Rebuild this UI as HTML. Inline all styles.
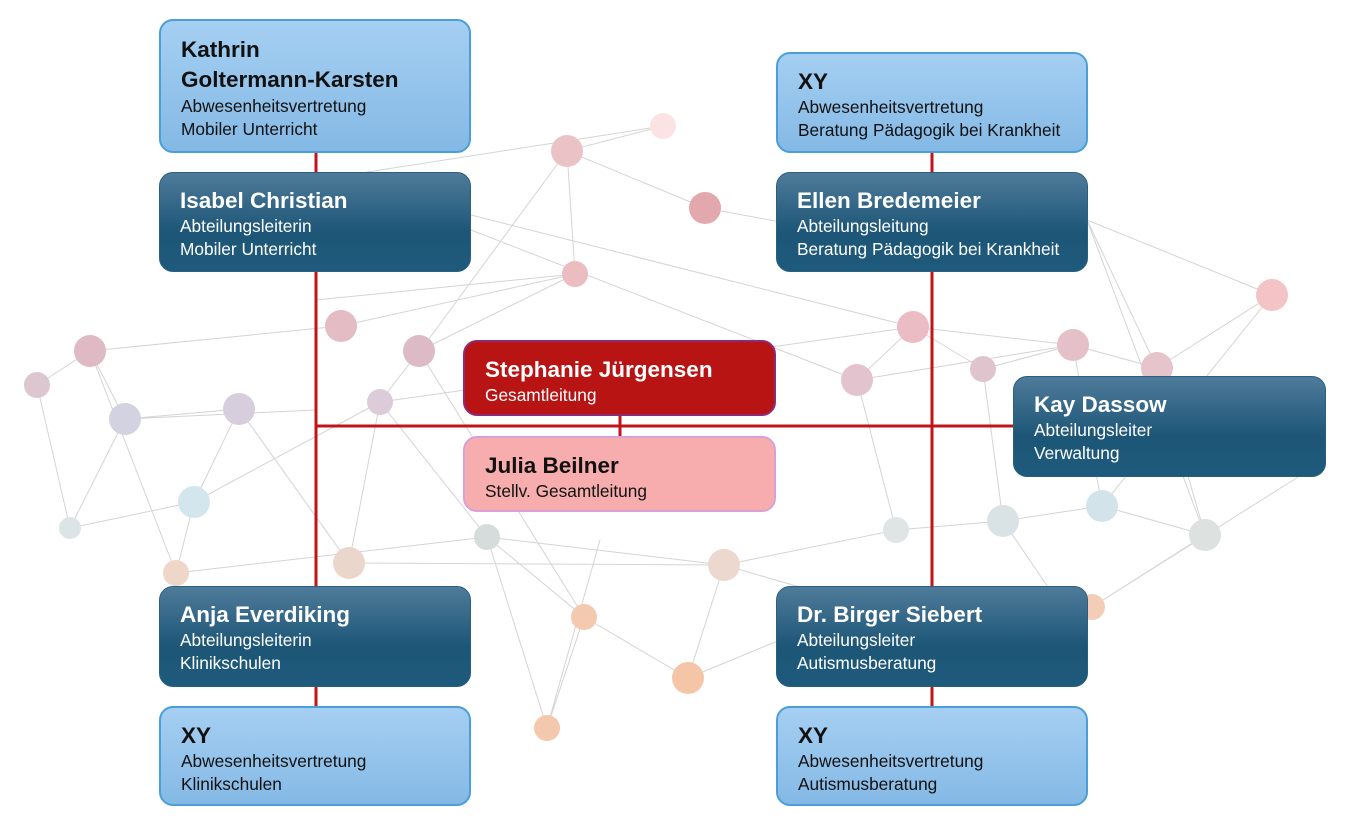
<!DOCTYPE html>
<html><head><meta charset="utf-8"><style>
body{margin:0;width:1345px;height:818px;background:#fff;position:relative;overflow:hidden;font-family:"Liberation Sans",sans-serif}
.b{position:absolute;box-sizing:border-box;border-radius:14px;padding:14px 0 0 20px;font-size:17.3px;line-height:23px;white-space:nowrap}
.b b{display:block;font-size:22.5px;line-height:28px}
.l{background:linear-gradient(#a5cff2,#84b9e5);border:2px solid #4a9fd8;color:#111}
.d{background:linear-gradient(#4f7b9a,#1d5677 60%,#1e5a7c);border:1.5px solid #2a5f80;color:#fff}
</style></head><body>
<svg width="1345" height="818" style="position:absolute;left:0;top:0">
<g stroke="#d4d4d4" stroke-width="1" fill="none">
<path d="M663 126L567 151L705 208L932 250M567 151L575 274L341 326M567 151L420 351M663 126L316 180M575 274L419 351L380 402L349 563M341 326L90 351L37 385L70 528L125 419L239 409L194 502L70 528M90 351L125 419M90 351L176 573M239 409L349 563M194 502L176 573M380 402L194 502M380 402L487 537L584 617L547 728L487 537M419 351L584 617M487 537L724 565L688 678L584 617M724 565L896 530M913 327L857 380L896 530M913 327L983 369L1003 521M1073 345L983 369M1073 345L1157 368L1272 295L1102 506L1003 521M1157 368L1205 535L1092 607M1073 345L1102 506M857 380L1073 345M1272 295L1087 220M1087 220L1157 368M1087 220L1205 535M471 215L913 327M471 230L857 380M176 573L487 537M349 563L724 565M896 530L1003 521M1102 506L1205 535M316 300L575 274M380 402L913 327M724 565L913 620M688 678L780 640M547 728L600 540M1092 607L1325 460M1205 535L1092 607M125 419L316 410M37 385L90 351M1003 521L1050 590M913 327L1073 345"/>
</g>
<g>
<circle cx="663" cy="126" r="13" fill="#fbe3e3"/><circle cx="567" cy="151" r="16" fill="#ebc3c6"/><circle cx="705" cy="208" r="16" fill="#e3a8ad"/><circle cx="575" cy="274" r="13" fill="#ebbcc0"/><circle cx="341" cy="326" r="16" fill="#e3bcc4"/><circle cx="419" cy="351" r="16" fill="#dcbac6"/><circle cx="90" cy="351" r="16" fill="#dfbac4"/><circle cx="37" cy="385" r="13" fill="#dcc6d0"/><circle cx="125" cy="419" r="16" fill="#d2d2e0"/><circle cx="239" cy="409" r="16" fill="#d6cedc"/><circle cx="380" cy="402" r="13" fill="#dccbd8"/><circle cx="194" cy="502" r="16" fill="#d3e6ee"/><circle cx="70" cy="528" r="11" fill="#dde4e6"/><circle cx="176" cy="573" r="13" fill="#eed6c8"/><circle cx="349" cy="563" r="16" fill="#ebd6cc"/><circle cx="487" cy="537" r="13" fill="#d6dcdc"/><circle cx="584" cy="617" r="13" fill="#f3c9b0"/><circle cx="724" cy="565" r="16" fill="#ecd8ce"/><circle cx="688" cy="678" r="16" fill="#f5c5a8"/><circle cx="547" cy="728" r="13" fill="#f3c8ac"/><circle cx="913" cy="327" r="16" fill="#ebbcc3"/><circle cx="857" cy="380" r="16" fill="#e3c3cd"/><circle cx="983" cy="369" r="13" fill="#dfc4ce"/><circle cx="1073" cy="345" r="16" fill="#e6c0c8"/><circle cx="1157" cy="368" r="16" fill="#e6c4cc"/><circle cx="1272" cy="295" r="16" fill="#f3c3c6"/><circle cx="1102" cy="506" r="16" fill="#d3e3ea"/><circle cx="1003" cy="521" r="16" fill="#d9e2e5"/><circle cx="896" cy="530" r="13" fill="#dfe4e4"/><circle cx="1205" cy="535" r="16" fill="#dde1df"/><circle cx="1092" cy="607" r="13" fill="#f3cdb5"/>
</g>
<g stroke="#c0141a" stroke-width="3" fill="none">
<path d="M316 152V586M316 687V706M932 152V586M932 687V706M316 426H1013M620 415V436"/>
</g>
</svg>
<div class="b l" style="left:159px;top:19px;width:312px;height:134px;padding-top:14px"><b style="line-height:30px">Kathrin<br>Goltermann-Karsten</b>Abwesenheitsvertretung<br>Mobiler Unterricht</div>
<div class="b d" style="left:159px;top:172px;width:312px;height:100px">
<b>Isabel Christian</b>Abteilungsleiterin<br>Mobiler Unterricht</div>
<div class="b l" style="left:776px;top:52px;width:312px;height:101px"><b>XY</b>Abwesenheitsvertretung<br>Beratung Pädagogik bei Krankheit</div>
<div class="b d" style="left:776px;top:172px;width:312px;height:100px"><b>Ellen Bredemeier</b>Abteilungsleitung<br>Beratung Pädagogik bei Krankheit</div>
<div class="b" style="left:463px;top:340px;width:313px;height:76px;background:#b81414;border:2px solid #8e2a7a;color:#fff"><b>Stephanie Jürgensen</b>Gesamtleitung</div>
<div class="b" style="left:463px;top:436px;width:313px;height:76px;background:#f7adae;border:2px solid #d9a0d8;color:#111"><b>Julia Beilner</b>Stellv. Gesamtleitung</div>
<div class="b d" style="left:1013px;top:376px;width:313px;height:101px"><b>Kay Dassow</b>Abteilungsleiter<br>Verwaltung</div>
<div class="b d" style="left:159px;top:586px;width:312px;height:101px"><b>Anja Everdiking</b>Abteilungsleiterin<br>Klinikschulen</div>
<div class="b l" style="left:159px;top:706px;width:312px;height:100px"><b>XY</b>Abwesenheitsvertretung<br>Klinikschulen</div>
<div class="b d" style="left:776px;top:586px;width:312px;height:101px"><b>Dr. Birger Siebert</b>Abteilungsleiter<br>Autismusberatung</div>
<div class="b l" style="left:776px;top:706px;width:312px;height:100px"><b>XY</b>Abwesenheitsvertretung<br>Autismusberatung</div>
</body></html>
